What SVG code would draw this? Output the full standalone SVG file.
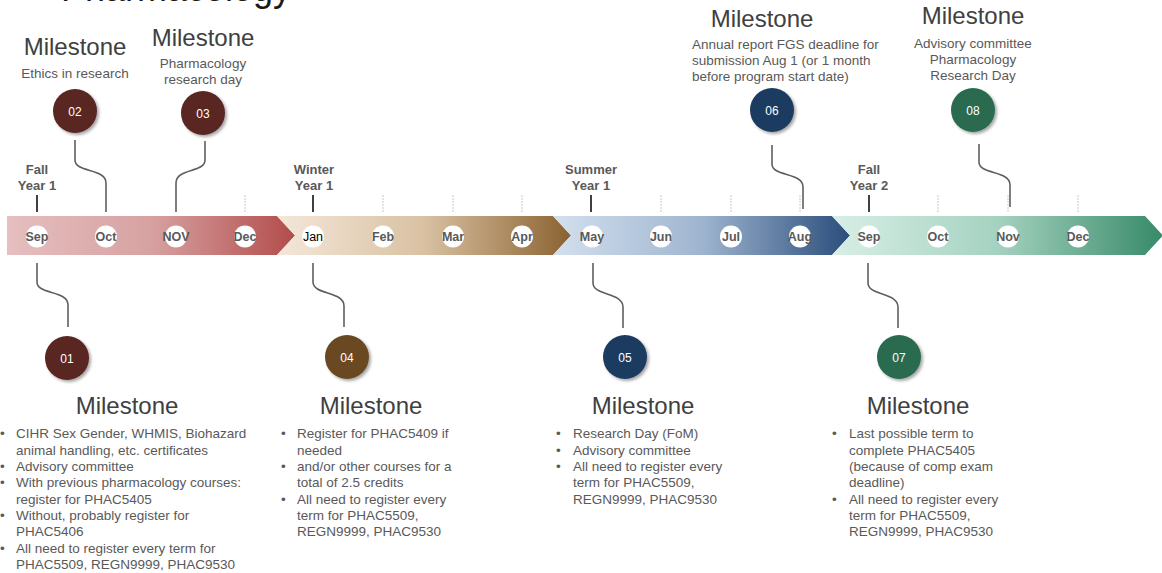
<svg xmlns="http://www.w3.org/2000/svg" width="1162" height="573" viewBox="0 0 1162 573">
<defs>
<linearGradient id="gRed" x1="0" y1="0" x2="1" y2="0"><stop offset="0" stop-color="#e6bfc0"/><stop offset="0.5" stop-color="#d7a1a1"/><stop offset="1" stop-color="#b24c4b"/></linearGradient>
<linearGradient id="gBei" x1="0" y1="0" x2="1" y2="0"><stop offset="0" stop-color="#f4e7da"/><stop offset="0.5" stop-color="#d9c1a2"/><stop offset="1" stop-color="#8a6230"/></linearGradient>
<linearGradient id="gBlu" x1="0" y1="0" x2="1" y2="0"><stop offset="0" stop-color="#d3e0ef"/><stop offset="0.5" stop-color="#9fb5cf"/><stop offset="1" stop-color="#2a4d7c"/></linearGradient>
<linearGradient id="gGrn" x1="0" y1="0" x2="1" y2="0"><stop offset="0" stop-color="#d8efe6"/><stop offset="0.5" stop-color="#a5d2c0"/><stop offset="1" stop-color="#378a69"/></linearGradient>
<filter id="sh" x="-30%" y="-30%" width="160%" height="160%"><feDropShadow dx="2" dy="2" stdDeviation="1.5" flood-color="#000" flood-opacity="0.35"/></filter>
</defs>
<style>
text{font-family:"Liberation Sans",Arial,sans-serif}
.title{font-size:36px;fill:#1a1a1a}
.ms{font-size:24px;fill:#404040;text-anchor:middle}
.sub{font-size:13.5px;fill:#595959}
.subc{font-size:13.5px;fill:#595959;text-anchor:middle}
.body{font-size:13.5px;fill:#595959}
.num{font-size:12px;fill:#fff;text-anchor:middle}
.mon{font-size:12.5px;font-weight:bold;fill:#595959;text-anchor:middle}
.monj{font-size:12.5px;fill:#000;text-anchor:middle}
.sea{font-size:13px;font-weight:bold;fill:#595959;text-anchor:middle}
.mc{fill:#fff}
.tk{stroke:#c8c8c8;stroke-width:1;stroke-dasharray:2 1}
.stk{stroke:#404040;stroke-width:2}
.cn{fill:none;stroke:#5f5f5f;stroke-width:1.6}
.c1{fill:#5a2524;filter:url(#sh)}
.c4{fill:#6a4a22;filter:url(#sh)}
.c5{fill:#1f3a60;filter:url(#sh)}
.c7{fill:#2b6a50;filter:url(#sh)}
</style>
<rect width="1162" height="573" fill="#fff"/>
<text class="title" x="61" y="1">Pharmacology</text>

<g id="timeline">
<polygon points="7,216 277,216 295,235.5 277,255 7,255" fill="url(#gRed)"/>
<polygon points="277,216 553,216 571,235.5 553,255 277,255 295,235.5" fill="url(#gBei)"/>
<polygon points="553,216 832,216 850,235.5 832,255 553,255 571,235.5" fill="url(#gBlu)"/>
<polygon points="832,216 1145,216 1163,235.5 1145,255 832,255 850,235.5" fill="url(#gGrn)"/>
</g>

<g id="ticks">
<line class="stk" x1="37" y1="195" x2="37" y2="212"/>
<line class="stk" x1="313" y1="195" x2="313" y2="212"/>
<line class="stk" x1="591" y1="195" x2="591" y2="212"/>
<line class="stk" x1="869" y1="195" x2="869" y2="212"/>
<line class="tk" x1="245" y1="195" x2="245" y2="212"/>
<line class="tk" x1="383" y1="195" x2="383" y2="212"/>
<line class="tk" x1="453" y1="195" x2="453" y2="212"/>
<line class="tk" x1="522" y1="195" x2="522" y2="212"/>
<line class="tk" x1="661" y1="195" x2="661" y2="212"/>
<line class="tk" x1="731" y1="195" x2="731" y2="212"/>
<line class="tk" x1="800" y1="195" x2="800" y2="212"/>
<line class="tk" x1="938" y1="195" x2="938" y2="212"/>
<line class="tk" x1="1008" y1="195" x2="1008" y2="212"/>
<line class="tk" x1="1078" y1="195" x2="1078" y2="212"/>
</g>

<g id="seasons">
<text class="sea" x="37" y="174">Fall</text><text class="sea" x="37" y="190">Year 1</text>
<text class="sea" x="314" y="174">Winter</text><text class="sea" x="314" y="190">Year 1</text>
<text class="sea" x="591" y="174">Summer</text><text class="sea" x="591" y="190">Year 1</text>
<text class="sea" x="869" y="174">Fall</text><text class="sea" x="869" y="190">Year 2</text>
</g>

<g id="months">
<circle class="mc" cx="37" cy="236.5" r="11"/><text class="mon" x="37" y="241">Sep</text>
<circle class="mc" cx="106" cy="236.5" r="11"/><text class="mon" x="106" y="241">Oct</text>
<circle class="mc" cx="176" cy="236.5" r="11"/><text class="mon" x="176" y="241">NOV</text>
<circle class="mc" cx="245" cy="236.5" r="11"/><text class="mon" x="245" y="241">Dec</text>
<circle class="mc" cx="313" cy="236.5" r="11"/><text class="monj" x="313" y="241">Jan</text>
<circle class="mc" cx="383" cy="236.5" r="11"/><text class="mon" x="383" y="241">Feb</text>
<circle class="mc" cx="453" cy="236.5" r="11"/><text class="mon" x="453" y="241">Mar</text>
<circle class="mc" cx="522" cy="236.5" r="11"/><text class="mon" x="522" y="241">Apr</text>
<circle class="mc" cx="592" cy="236.5" r="11"/><text class="mon" x="592" y="241">May</text>
<circle class="mc" cx="661" cy="236.5" r="11"/><text class="mon" x="661" y="241">Jun</text>
<circle class="mc" cx="731" cy="236.5" r="11"/><text class="mon" x="731" y="241">Jul</text>
<circle class="mc" cx="800" cy="236.5" r="11"/><text class="mon" x="800" y="241">Aug</text>
<circle class="mc" cx="869" cy="236.5" r="11"/><text class="mon" x="869" y="241">Sep</text>
<circle class="mc" cx="938" cy="236.5" r="11"/><text class="mon" x="938" y="241">Oct</text>
<circle class="mc" cx="1008" cy="236.5" r="11"/><text class="mon" x="1008" y="241">Nov</text>
<circle class="mc" cx="1078" cy="236.5" r="11"/><text class="mon" x="1078" y="241">Dec</text>
</g>

<g id="connectors">
<path class="cn" d="M75,140 V160 C75,173 106,168 106,183 V212"/>
<path class="cn" d="M205,141 V160 C205,173 176,168 176,183 V212"/>
<path class="cn" d="M772,145 V164 C772,177 803,172 803,187 V209"/>
<path class="cn" d="M979,144 V162 C979,175 1010,170 1010,185 V207"/>
<path class="cn" d="M37,263 V282 C37,295 68,290 68,305 V327"/>
<path class="cn" d="M313,263 V282 C313,295 344,291 344,306 V327"/>
<path class="cn" d="M593,263 V283 C593,296 623,292 623,307 V328"/>
<path class="cn" d="M868,263 V283 C868,296 898,292 898,307 V328"/>
</g>

<g id="m02">
<text class="ms" x="75" y="55">Milestone</text>
<text class="subc" x="75" y="78">Ethics in research</text>
<circle class="c1" cx="75" cy="111" r="22"/><text class="num" x="75" y="115.5">02</text>
</g>
<g id="m03">
<text class="ms" x="203" y="46">Milestone</text>
<text class="subc" x="203" y="68">Pharmacology</text>
<text class="subc" x="203" y="83.5">research day</text>
<circle class="c1" cx="203" cy="113" r="22"/><text class="num" x="203" y="117.5">03</text>
</g>
<g id="m06">
<text class="ms" x="762" y="27">Milestone</text>
<text class="sub" x="692" y="49">Annual report FGS deadline for</text>
<text class="sub" x="692" y="65">submission Aug 1 (or 1 month</text>
<text class="sub" x="692" y="81">before program start date)</text>
<circle class="c5" cx="772" cy="110" r="22"/><text class="num" x="772" y="114.5">06</text>
</g>
<g id="m08">
<text class="ms" x="973" y="24">Milestone</text>
<text class="subc" x="973" y="48">Advisory committee</text>
<text class="subc" x="973" y="63.5">Pharmacology</text>
<text class="subc" x="973" y="79.5">Research Day</text>
<circle class="c7" cx="973" cy="110" r="22"/><text class="num" x="973" y="114.5">08</text>
</g>

<g id="m01">
<circle class="c1" cx="67" cy="358" r="22"/><text class="num" x="67" y="362.5">01</text>
<text class="ms" x="127" y="414">Milestone</text>
<g class="body">
<text x="0" y="438">•</text><text x="16" y="438">CIHR Sex Gender, WHMIS, Biohazard</text>
<text x="16" y="454.5">animal handling, etc. certificates</text>
<text x="0" y="471">•</text><text x="16" y="471">Advisory committee</text>
<text x="0" y="487">•</text><text x="16" y="487">With previous pharmacology courses:</text>
<text x="16" y="503.5">register for PHAC5405</text>
<text x="0" y="520">•</text><text x="16" y="520">Without, probably register for</text>
<text x="16" y="536">PHAC5406</text>
<text x="0" y="552.5">•</text><text x="16" y="552.5">All need to register every term for</text>
<text x="16" y="569">PHAC5509, REGN9999, PHAC9530</text>
</g>
</g>
<g id="m04">
<circle class="c4" cx="347" cy="357" r="22"/><text class="num" x="347" y="361.5">04</text>
<text class="ms" x="371" y="414">Milestone</text>
<g class="body">
<text x="281" y="438">•</text><text x="297" y="438">Register for PHAC5409 if</text>
<text x="297" y="454.5">needed</text>
<text x="281" y="471">•</text><text x="297" y="471">and/or other courses for a</text>
<text x="297" y="487">total of 2.5 credits</text>
<text x="281" y="503.5">•</text><text x="297" y="503.5">All need to register every</text>
<text x="297" y="520">term for PHAC5509,</text>
<text x="297" y="536">REGN9999, PHAC9530</text>
</g>
</g>
<g id="m05">
<circle class="c5" cx="625" cy="357" r="22"/><text class="num" x="625" y="361.5">05</text>
<text class="ms" x="643" y="414">Milestone</text>
<g class="body">
<text x="556" y="438">•</text><text x="573" y="438">Research Day (FoM)</text>
<text x="556" y="454.5">•</text><text x="573" y="454.5">Advisory committee</text>
<text x="556" y="471">•</text><text x="573" y="471">All need to register every</text>
<text x="573" y="487">term for PHAC5509,</text>
<text x="573" y="503.5">REGN9999, PHAC9530</text>
</g>
</g>
<g id="m07">
<circle class="c7" cx="899" cy="357" r="22"/><text class="num" x="899" y="361.5">07</text>
<text class="ms" x="918" y="414">Milestone</text>
<g class="body">
<text x="832" y="438">•</text><text x="849" y="438">Last possible term to</text>
<text x="849" y="454.5">complete PHAC5405</text>
<text x="849" y="471">(because of comp exam</text>
<text x="849" y="487">deadline)</text>
<text x="832" y="503.5">•</text><text x="849" y="503.5">All need to register every</text>
<text x="849" y="520">term for PHAC5509,</text>
<text x="849" y="536">REGN9999, PHAC9530</text>
</g>
</g>
</svg>
